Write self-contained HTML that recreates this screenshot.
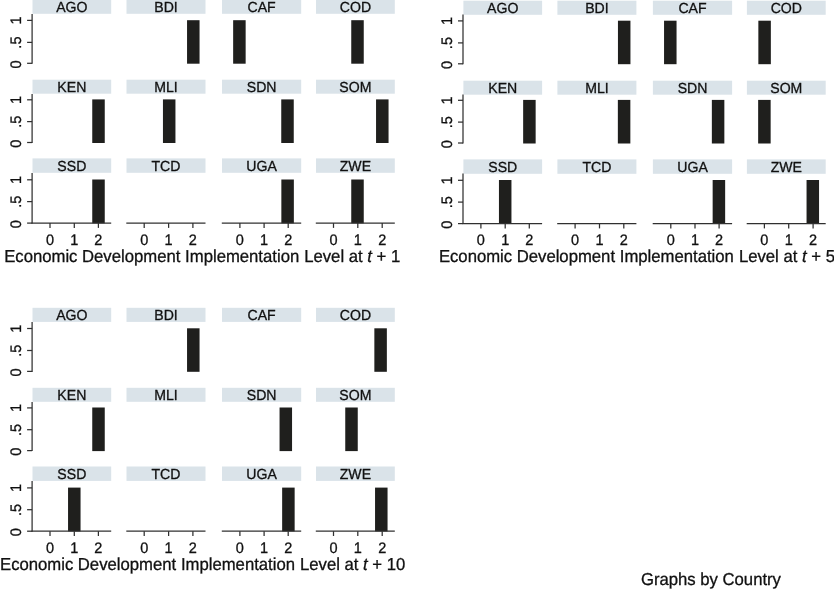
<!DOCTYPE html>
<html><head><meta charset="utf-8"><title>Graphs by Country</title>
<style>html,body{margin:0;padding:0;background:#fff}svg{display:block}text{stroke:#111;stroke-width:.3px;text-rendering:geometricPrecision}</style></head>
<body>
<svg width="834" height="590" viewBox="0 0 834 590" font-family="'Liberation Sans', sans-serif" fill="#111111">
<rect width="834" height="590" fill="#fff"/>
<g transform="translate(0,0)">
<rect x="32.5" y="-0.3" width="78.7" height="14.10" fill="#dae3e9"/>
<text transform="translate(71.85,12.25) scale(1,1.03)" font-size="14.1" text-anchor="middle">AGO</text>
<path d="M32.10 14.00V63.80" stroke="#303030" stroke-width="1.25" fill="none"/>
<path d="M27.10 20.40H32.10" stroke="#303030" stroke-width="1.25" fill="none"/>
<text transform="translate(21.30,20.50) rotate(-90) scale(1,1.05)" font-size="14.5" text-anchor="middle">1</text>
<path d="M27.10 42.40H32.10" stroke="#303030" stroke-width="1.25" fill="none"/>
<text transform="translate(21.30,42.60) rotate(-90) scale(1,1.05)" font-size="14.5" text-anchor="middle">.5</text>
<path d="M27.10 63.30H32.10" stroke="#303030" stroke-width="1.25" fill="none"/>
<text transform="translate(21.30,64.40) rotate(-90) scale(1,1.05)" font-size="14.5" text-anchor="middle">0</text>
<rect x="126.5" y="-0.3" width="79.0" height="14.10" fill="#dae3e9"/>
<text transform="translate(166.00,12.25) scale(1,1.03)" font-size="14.1" text-anchor="middle">BDI</text>
<rect x="187.05" y="20.20" width="12.5" height="43.50" fill="#1f1f1d"/>
<rect x="222.0" y="-0.3" width="79.2" height="14.10" fill="#dae3e9"/>
<text transform="translate(261.60,12.25) scale(1,1.03)" font-size="14.1" text-anchor="middle">CAF</text>
<rect x="233.15" y="20.20" width="12.5" height="43.50" fill="#1f1f1d"/>
<rect x="316.0" y="-0.3" width="78.8" height="14.10" fill="#dae3e9"/>
<text transform="translate(355.40,12.25) scale(1,1.03)" font-size="14.1" text-anchor="middle">COD</text>
<rect x="351.25" y="20.20" width="12.5" height="43.50" fill="#1f1f1d"/>
<rect x="32.5" y="79.7" width="78.7" height="14.00" fill="#dae3e9"/>
<text transform="translate(71.85,92.15) scale(1,1.03)" font-size="14.1" text-anchor="middle">KEN</text>
<rect x="92.25" y="99.40" width="12.5" height="43.60" fill="#1f1f1d"/>
<path d="M32.10 94.00V143.00" stroke="#303030" stroke-width="1.25" fill="none"/>
<path d="M27.10 99.80H32.10" stroke="#303030" stroke-width="1.25" fill="none"/>
<text transform="translate(21.30,99.90) rotate(-90) scale(1,1.05)" font-size="14.5" text-anchor="middle">1</text>
<path d="M27.10 121.60H32.10" stroke="#303030" stroke-width="1.25" fill="none"/>
<text transform="translate(21.30,121.80) rotate(-90) scale(1,1.05)" font-size="14.5" text-anchor="middle">.5</text>
<path d="M27.10 142.50H32.10" stroke="#303030" stroke-width="1.25" fill="none"/>
<text transform="translate(21.30,143.60) rotate(-90) scale(1,1.05)" font-size="14.5" text-anchor="middle">0</text>
<rect x="126.5" y="79.7" width="79.0" height="14.00" fill="#dae3e9"/>
<text transform="translate(166.00,92.15) scale(1,1.03)" font-size="14.1" text-anchor="middle">MLI</text>
<rect x="162.95" y="99.40" width="12.5" height="43.60" fill="#1f1f1d"/>
<rect x="222.0" y="79.7" width="79.2" height="14.00" fill="#dae3e9"/>
<text transform="translate(261.60,92.15) scale(1,1.03)" font-size="14.1" text-anchor="middle">SDN</text>
<rect x="281.25" y="99.40" width="12.5" height="43.60" fill="#1f1f1d"/>
<rect x="316.0" y="79.7" width="78.8" height="14.00" fill="#dae3e9"/>
<text transform="translate(355.40,92.15) scale(1,1.03)" font-size="14.1" text-anchor="middle">SOM</text>
<rect x="376.05" y="99.40" width="12.5" height="43.60" fill="#1f1f1d"/>
<rect x="32.5" y="158.4" width="78.7" height="14.40" fill="#dae3e9"/>
<text transform="translate(71.85,171.25) scale(1,1.03)" font-size="14.1" text-anchor="middle">SSD</text>
<rect x="92.25" y="179.50" width="12.5" height="43.80" fill="#1f1f1d"/>
<path d="M32.10 172.90V223.60" stroke="#303030" stroke-width="1.25" fill="none"/>
<path d="M27.10 179.80H32.10" stroke="#303030" stroke-width="1.25" fill="none"/>
<text transform="translate(21.30,179.90) rotate(-90) scale(1,1.05)" font-size="14.5" text-anchor="middle">1</text>
<path d="M27.10 201.60H32.10" stroke="#303030" stroke-width="1.25" fill="none"/>
<text transform="translate(21.30,201.80) rotate(-90) scale(1,1.05)" font-size="14.5" text-anchor="middle">.5</text>
<path d="M27.10 223.10H32.10" stroke="#303030" stroke-width="1.25" fill="none"/>
<text transform="translate(21.30,224.20) rotate(-90) scale(1,1.05)" font-size="14.5" text-anchor="middle">0</text>
<path d="M31.60 223.10H111.20" stroke="#303030" stroke-width="1.25" fill="none"/>
<path d="M50.00 223.10v4.8" stroke="#303030" stroke-width="1.25" fill="none"/>
<text transform="translate(50.00,244.80) scale(1,1.05)" font-size="14.5" text-anchor="middle">0</text>
<path d="M74.30 223.10v4.8" stroke="#303030" stroke-width="1.25" fill="none"/>
<text transform="translate(74.30,244.80) scale(1,1.05)" font-size="14.5" text-anchor="middle">1</text>
<path d="M98.40 223.10v4.8" stroke="#303030" stroke-width="1.25" fill="none"/>
<text transform="translate(98.40,244.80) scale(1,1.05)" font-size="14.5" text-anchor="middle">2</text>
<rect x="126.5" y="158.4" width="79.0" height="14.40" fill="#dae3e9"/>
<text transform="translate(166.00,171.25) scale(1,1.03)" font-size="14.1" text-anchor="middle">TCD</text>
<path d="M126.30 223.10H205.50" stroke="#303030" stroke-width="1.25" fill="none"/>
<path d="M144.20 223.10v4.8" stroke="#303030" stroke-width="1.25" fill="none"/>
<text transform="translate(144.20,244.80) scale(1,1.05)" font-size="14.5" text-anchor="middle">0</text>
<path d="M168.60 223.10v4.8" stroke="#303030" stroke-width="1.25" fill="none"/>
<text transform="translate(168.60,244.80) scale(1,1.05)" font-size="14.5" text-anchor="middle">1</text>
<path d="M192.90 223.10v4.8" stroke="#303030" stroke-width="1.25" fill="none"/>
<text transform="translate(192.90,244.80) scale(1,1.05)" font-size="14.5" text-anchor="middle">2</text>
<rect x="222.0" y="158.4" width="79.2" height="14.40" fill="#dae3e9"/>
<text transform="translate(261.60,171.25) scale(1,1.03)" font-size="14.1" text-anchor="middle">UGA</text>
<rect x="281.35" y="179.50" width="12.5" height="43.80" fill="#1f1f1d"/>
<path d="M221.80 223.10H301.20" stroke="#303030" stroke-width="1.25" fill="none"/>
<path d="M239.90 223.10v4.8" stroke="#303030" stroke-width="1.25" fill="none"/>
<text transform="translate(239.90,244.80) scale(1,1.05)" font-size="14.5" text-anchor="middle">0</text>
<path d="M264.10 223.10v4.8" stroke="#303030" stroke-width="1.25" fill="none"/>
<text transform="translate(264.10,244.80) scale(1,1.05)" font-size="14.5" text-anchor="middle">1</text>
<path d="M288.20 223.10v4.8" stroke="#303030" stroke-width="1.25" fill="none"/>
<text transform="translate(288.20,244.80) scale(1,1.05)" font-size="14.5" text-anchor="middle">2</text>
<rect x="316.0" y="158.4" width="78.8" height="14.40" fill="#dae3e9"/>
<text transform="translate(355.40,171.25) scale(1,1.03)" font-size="14.1" text-anchor="middle">ZWE</text>
<rect x="351.25" y="179.50" width="12.5" height="43.80" fill="#1f1f1d"/>
<path d="M315.80 223.10H394.80" stroke="#303030" stroke-width="1.25" fill="none"/>
<path d="M333.50 223.10v4.8" stroke="#303030" stroke-width="1.25" fill="none"/>
<text transform="translate(333.50,244.80) scale(1,1.05)" font-size="14.5" text-anchor="middle">0</text>
<path d="M357.80 223.10v4.8" stroke="#303030" stroke-width="1.25" fill="none"/>
<text transform="translate(357.80,244.80) scale(1,1.05)" font-size="14.5" text-anchor="middle">1</text>
<path d="M382.20 223.10v4.8" stroke="#303030" stroke-width="1.25" fill="none"/>
<text transform="translate(382.20,244.80) scale(1,1.05)" font-size="14.5" text-anchor="middle">2</text>
<g font-size="16.7"><text transform="translate(4.2,261.50) scale(1,1.035)">Economic</text><text transform="translate(82.0,261.50) scale(1,1.035)">Development</text><text transform="translate(185.1,261.50) scale(1,1.035)">Implementation</text><text transform="translate(304.2,261.50) scale(1,1.035)">Level at <tspan font-style="italic">t</tspan> + 1</text></g>
</g>
<g transform="translate(430.9,0.5)">
<rect x="32.5" y="0.2" width="78.7" height="14.10" fill="#dae3e9"/>
<text transform="translate(71.85,12.75) scale(1,1.03)" font-size="14.1" text-anchor="middle">AGO</text>
<path d="M32.10 14.00V63.80" stroke="#303030" stroke-width="1.25" fill="none"/>
<path d="M27.10 20.40H32.10" stroke="#303030" stroke-width="1.25" fill="none"/>
<text transform="translate(21.30,20.50) rotate(-90) scale(1,1.05)" font-size="14.5" text-anchor="middle">1</text>
<path d="M27.10 42.40H32.10" stroke="#303030" stroke-width="1.25" fill="none"/>
<text transform="translate(21.30,42.60) rotate(-90) scale(1,1.05)" font-size="14.5" text-anchor="middle">.5</text>
<path d="M27.10 63.30H32.10" stroke="#303030" stroke-width="1.25" fill="none"/>
<text transform="translate(21.30,64.40) rotate(-90) scale(1,1.05)" font-size="14.5" text-anchor="middle">0</text>
<rect x="126.5" y="0.2" width="79.0" height="14.10" fill="#dae3e9"/>
<text transform="translate(166.00,12.75) scale(1,1.03)" font-size="14.1" text-anchor="middle">BDI</text>
<rect x="187.05" y="20.20" width="12.5" height="43.50" fill="#1f1f1d"/>
<rect x="222.0" y="0.2" width="79.2" height="14.10" fill="#dae3e9"/>
<text transform="translate(261.60,12.75) scale(1,1.03)" font-size="14.1" text-anchor="middle">CAF</text>
<rect x="233.15" y="20.20" width="12.5" height="43.50" fill="#1f1f1d"/>
<rect x="316.0" y="0.2" width="78.8" height="14.10" fill="#dae3e9"/>
<text transform="translate(355.40,12.75) scale(1,1.03)" font-size="14.1" text-anchor="middle">COD</text>
<rect x="327.45" y="20.20" width="12.5" height="43.50" fill="#1f1f1d"/>
<rect x="32.5" y="80.2" width="78.7" height="14.00" fill="#dae3e9"/>
<text transform="translate(71.85,92.65) scale(1,1.03)" font-size="14.1" text-anchor="middle">KEN</text>
<rect x="92.25" y="99.40" width="12.5" height="43.60" fill="#1f1f1d"/>
<path d="M32.10 94.00V143.00" stroke="#303030" stroke-width="1.25" fill="none"/>
<path d="M27.10 99.80H32.10" stroke="#303030" stroke-width="1.25" fill="none"/>
<text transform="translate(21.30,99.90) rotate(-90) scale(1,1.05)" font-size="14.5" text-anchor="middle">1</text>
<path d="M27.10 121.60H32.10" stroke="#303030" stroke-width="1.25" fill="none"/>
<text transform="translate(21.30,121.80) rotate(-90) scale(1,1.05)" font-size="14.5" text-anchor="middle">.5</text>
<path d="M27.10 142.50H32.10" stroke="#303030" stroke-width="1.25" fill="none"/>
<text transform="translate(21.30,143.60) rotate(-90) scale(1,1.05)" font-size="14.5" text-anchor="middle">0</text>
<rect x="126.5" y="80.2" width="79.0" height="14.00" fill="#dae3e9"/>
<text transform="translate(166.00,92.65) scale(1,1.03)" font-size="14.1" text-anchor="middle">MLI</text>
<rect x="186.95" y="99.40" width="12.5" height="43.60" fill="#1f1f1d"/>
<rect x="222.0" y="80.2" width="79.2" height="14.00" fill="#dae3e9"/>
<text transform="translate(261.60,92.65) scale(1,1.03)" font-size="14.1" text-anchor="middle">SDN</text>
<rect x="280.95" y="99.40" width="12.5" height="43.60" fill="#1f1f1d"/>
<rect x="316.0" y="80.2" width="78.8" height="14.00" fill="#dae3e9"/>
<text transform="translate(355.40,92.65) scale(1,1.03)" font-size="14.1" text-anchor="middle">SOM</text>
<rect x="327.25" y="99.40" width="12.5" height="43.60" fill="#1f1f1d"/>
<rect x="32.5" y="158.9" width="78.7" height="14.40" fill="#dae3e9"/>
<text transform="translate(71.85,171.75) scale(1,1.03)" font-size="14.1" text-anchor="middle">SSD</text>
<rect x="68.05" y="179.50" width="12.5" height="43.80" fill="#1f1f1d"/>
<path d="M32.10 172.90V223.60" stroke="#303030" stroke-width="1.25" fill="none"/>
<path d="M27.10 179.80H32.10" stroke="#303030" stroke-width="1.25" fill="none"/>
<text transform="translate(21.30,179.90) rotate(-90) scale(1,1.05)" font-size="14.5" text-anchor="middle">1</text>
<path d="M27.10 201.60H32.10" stroke="#303030" stroke-width="1.25" fill="none"/>
<text transform="translate(21.30,201.80) rotate(-90) scale(1,1.05)" font-size="14.5" text-anchor="middle">.5</text>
<path d="M27.10 223.10H32.10" stroke="#303030" stroke-width="1.25" fill="none"/>
<text transform="translate(21.30,224.20) rotate(-90) scale(1,1.05)" font-size="14.5" text-anchor="middle">0</text>
<path d="M31.60 223.10H111.20" stroke="#303030" stroke-width="1.25" fill="none"/>
<path d="M50.00 223.10v4.8" stroke="#303030" stroke-width="1.25" fill="none"/>
<text transform="translate(50.00,244.80) scale(1,1.05)" font-size="14.5" text-anchor="middle">0</text>
<path d="M74.30 223.10v4.8" stroke="#303030" stroke-width="1.25" fill="none"/>
<text transform="translate(74.30,244.80) scale(1,1.05)" font-size="14.5" text-anchor="middle">1</text>
<path d="M98.40 223.10v4.8" stroke="#303030" stroke-width="1.25" fill="none"/>
<text transform="translate(98.40,244.80) scale(1,1.05)" font-size="14.5" text-anchor="middle">2</text>
<rect x="126.5" y="158.9" width="79.0" height="14.40" fill="#dae3e9"/>
<text transform="translate(166.00,171.75) scale(1,1.03)" font-size="14.1" text-anchor="middle">TCD</text>
<path d="M126.30 223.10H205.50" stroke="#303030" stroke-width="1.25" fill="none"/>
<path d="M144.20 223.10v4.8" stroke="#303030" stroke-width="1.25" fill="none"/>
<text transform="translate(144.20,244.80) scale(1,1.05)" font-size="14.5" text-anchor="middle">0</text>
<path d="M168.60 223.10v4.8" stroke="#303030" stroke-width="1.25" fill="none"/>
<text transform="translate(168.60,244.80) scale(1,1.05)" font-size="14.5" text-anchor="middle">1</text>
<path d="M192.90 223.10v4.8" stroke="#303030" stroke-width="1.25" fill="none"/>
<text transform="translate(192.90,244.80) scale(1,1.05)" font-size="14.5" text-anchor="middle">2</text>
<rect x="222.0" y="158.9" width="79.2" height="14.40" fill="#dae3e9"/>
<text transform="translate(261.60,171.75) scale(1,1.03)" font-size="14.1" text-anchor="middle">UGA</text>
<rect x="281.75" y="179.50" width="12.5" height="43.80" fill="#1f1f1d"/>
<path d="M221.80 223.10H301.20" stroke="#303030" stroke-width="1.25" fill="none"/>
<path d="M239.90 223.10v4.8" stroke="#303030" stroke-width="1.25" fill="none"/>
<text transform="translate(239.90,244.80) scale(1,1.05)" font-size="14.5" text-anchor="middle">0</text>
<path d="M264.10 223.10v4.8" stroke="#303030" stroke-width="1.25" fill="none"/>
<text transform="translate(264.10,244.80) scale(1,1.05)" font-size="14.5" text-anchor="middle">1</text>
<path d="M288.20 223.10v4.8" stroke="#303030" stroke-width="1.25" fill="none"/>
<text transform="translate(288.20,244.80) scale(1,1.05)" font-size="14.5" text-anchor="middle">2</text>
<rect x="316.0" y="158.9" width="78.8" height="14.40" fill="#dae3e9"/>
<text transform="translate(355.40,171.75) scale(1,1.03)" font-size="14.1" text-anchor="middle">ZWE</text>
<rect x="375.65" y="179.50" width="12.5" height="43.80" fill="#1f1f1d"/>
<path d="M315.80 223.10H394.80" stroke="#303030" stroke-width="1.25" fill="none"/>
<path d="M333.50 223.10v4.8" stroke="#303030" stroke-width="1.25" fill="none"/>
<text transform="translate(333.50,244.80) scale(1,1.05)" font-size="14.5" text-anchor="middle">0</text>
<path d="M357.80 223.10v4.8" stroke="#303030" stroke-width="1.25" fill="none"/>
<text transform="translate(357.80,244.80) scale(1,1.05)" font-size="14.5" text-anchor="middle">1</text>
<path d="M382.20 223.10v4.8" stroke="#303030" stroke-width="1.25" fill="none"/>
<text transform="translate(382.20,244.80) scale(1,1.05)" font-size="14.5" text-anchor="middle">2</text>
<g font-size="16.7"><text transform="translate(8.0,261.50) scale(1,1.035)">Economic</text><text transform="translate(85.8,261.50) scale(1,1.035)">Development</text><text transform="translate(188.9,261.50) scale(1,1.035)">Implementation</text><text transform="translate(308.0,261.50) scale(1,1.035)">Level at <tspan font-style="italic">t</tspan> + 5</text></g>
</g>
<g transform="translate(0,308.1)">
<rect x="32.5" y="-0.3" width="78.7" height="14.10" fill="#dae3e9"/>
<text transform="translate(71.85,12.25) scale(1,1.03)" font-size="14.1" text-anchor="middle">AGO</text>
<path d="M32.10 14.00V63.80" stroke="#303030" stroke-width="1.25" fill="none"/>
<path d="M27.10 20.40H32.10" stroke="#303030" stroke-width="1.25" fill="none"/>
<text transform="translate(21.30,20.50) rotate(-90) scale(1,1.05)" font-size="14.5" text-anchor="middle">1</text>
<path d="M27.10 42.40H32.10" stroke="#303030" stroke-width="1.25" fill="none"/>
<text transform="translate(21.30,42.60) rotate(-90) scale(1,1.05)" font-size="14.5" text-anchor="middle">.5</text>
<path d="M27.10 63.30H32.10" stroke="#303030" stroke-width="1.25" fill="none"/>
<text transform="translate(21.30,64.40) rotate(-90) scale(1,1.05)" font-size="14.5" text-anchor="middle">0</text>
<rect x="126.5" y="-0.3" width="79.0" height="14.10" fill="#dae3e9"/>
<text transform="translate(166.00,12.25) scale(1,1.03)" font-size="14.1" text-anchor="middle">BDI</text>
<rect x="187.05" y="20.20" width="12.5" height="43.50" fill="#1f1f1d"/>
<rect x="222.0" y="-0.3" width="79.2" height="14.10" fill="#dae3e9"/>
<text transform="translate(261.60,12.25) scale(1,1.03)" font-size="14.1" text-anchor="middle">CAF</text>
<rect x="316.0" y="-0.3" width="78.8" height="14.10" fill="#dae3e9"/>
<text transform="translate(355.40,12.25) scale(1,1.03)" font-size="14.1" text-anchor="middle">COD</text>
<rect x="374.35" y="20.20" width="12.5" height="43.50" fill="#1f1f1d"/>
<rect x="32.5" y="79.7" width="78.7" height="14.00" fill="#dae3e9"/>
<text transform="translate(71.85,92.15) scale(1,1.03)" font-size="14.1" text-anchor="middle">KEN</text>
<rect x="92.25" y="99.40" width="12.5" height="43.60" fill="#1f1f1d"/>
<path d="M32.10 94.00V143.00" stroke="#303030" stroke-width="1.25" fill="none"/>
<path d="M27.10 99.80H32.10" stroke="#303030" stroke-width="1.25" fill="none"/>
<text transform="translate(21.30,99.90) rotate(-90) scale(1,1.05)" font-size="14.5" text-anchor="middle">1</text>
<path d="M27.10 121.60H32.10" stroke="#303030" stroke-width="1.25" fill="none"/>
<text transform="translate(21.30,121.80) rotate(-90) scale(1,1.05)" font-size="14.5" text-anchor="middle">.5</text>
<path d="M27.10 142.50H32.10" stroke="#303030" stroke-width="1.25" fill="none"/>
<text transform="translate(21.30,143.60) rotate(-90) scale(1,1.05)" font-size="14.5" text-anchor="middle">0</text>
<rect x="126.5" y="79.7" width="79.0" height="14.00" fill="#dae3e9"/>
<text transform="translate(166.00,92.15) scale(1,1.03)" font-size="14.1" text-anchor="middle">MLI</text>
<rect x="222.0" y="79.7" width="79.2" height="14.00" fill="#dae3e9"/>
<text transform="translate(261.60,92.15) scale(1,1.03)" font-size="14.1" text-anchor="middle">SDN</text>
<rect x="279.55" y="99.40" width="12.5" height="43.60" fill="#1f1f1d"/>
<rect x="316.0" y="79.7" width="78.8" height="14.00" fill="#dae3e9"/>
<text transform="translate(355.40,92.15) scale(1,1.03)" font-size="14.1" text-anchor="middle">SOM</text>
<rect x="345.25" y="99.40" width="12.5" height="43.60" fill="#1f1f1d"/>
<rect x="32.5" y="158.4" width="78.7" height="14.40" fill="#dae3e9"/>
<text transform="translate(71.85,171.25) scale(1,1.03)" font-size="14.1" text-anchor="middle">SSD</text>
<rect x="68.05" y="179.50" width="12.5" height="43.80" fill="#1f1f1d"/>
<path d="M32.10 172.90V223.60" stroke="#303030" stroke-width="1.25" fill="none"/>
<path d="M27.10 179.80H32.10" stroke="#303030" stroke-width="1.25" fill="none"/>
<text transform="translate(21.30,179.90) rotate(-90) scale(1,1.05)" font-size="14.5" text-anchor="middle">1</text>
<path d="M27.10 201.60H32.10" stroke="#303030" stroke-width="1.25" fill="none"/>
<text transform="translate(21.30,201.80) rotate(-90) scale(1,1.05)" font-size="14.5" text-anchor="middle">.5</text>
<path d="M27.10 223.10H32.10" stroke="#303030" stroke-width="1.25" fill="none"/>
<text transform="translate(21.30,224.20) rotate(-90) scale(1,1.05)" font-size="14.5" text-anchor="middle">0</text>
<path d="M31.60 223.10H111.20" stroke="#303030" stroke-width="1.25" fill="none"/>
<path d="M50.00 223.10v4.8" stroke="#303030" stroke-width="1.25" fill="none"/>
<text transform="translate(50.00,244.80) scale(1,1.05)" font-size="14.5" text-anchor="middle">0</text>
<path d="M74.30 223.10v4.8" stroke="#303030" stroke-width="1.25" fill="none"/>
<text transform="translate(74.30,244.80) scale(1,1.05)" font-size="14.5" text-anchor="middle">1</text>
<path d="M98.40 223.10v4.8" stroke="#303030" stroke-width="1.25" fill="none"/>
<text transform="translate(98.40,244.80) scale(1,1.05)" font-size="14.5" text-anchor="middle">2</text>
<rect x="126.5" y="158.4" width="79.0" height="14.40" fill="#dae3e9"/>
<text transform="translate(166.00,171.25) scale(1,1.03)" font-size="14.1" text-anchor="middle">TCD</text>
<path d="M126.30 223.10H205.50" stroke="#303030" stroke-width="1.25" fill="none"/>
<path d="M144.20 223.10v4.8" stroke="#303030" stroke-width="1.25" fill="none"/>
<text transform="translate(144.20,244.80) scale(1,1.05)" font-size="14.5" text-anchor="middle">0</text>
<path d="M168.60 223.10v4.8" stroke="#303030" stroke-width="1.25" fill="none"/>
<text transform="translate(168.60,244.80) scale(1,1.05)" font-size="14.5" text-anchor="middle">1</text>
<path d="M192.90 223.10v4.8" stroke="#303030" stroke-width="1.25" fill="none"/>
<text transform="translate(192.90,244.80) scale(1,1.05)" font-size="14.5" text-anchor="middle">2</text>
<rect x="222.0" y="158.4" width="79.2" height="14.40" fill="#dae3e9"/>
<text transform="translate(261.60,171.25) scale(1,1.03)" font-size="14.1" text-anchor="middle">UGA</text>
<rect x="282.15" y="179.50" width="12.5" height="43.80" fill="#1f1f1d"/>
<path d="M221.80 223.10H301.20" stroke="#303030" stroke-width="1.25" fill="none"/>
<path d="M239.90 223.10v4.8" stroke="#303030" stroke-width="1.25" fill="none"/>
<text transform="translate(239.90,244.80) scale(1,1.05)" font-size="14.5" text-anchor="middle">0</text>
<path d="M264.10 223.10v4.8" stroke="#303030" stroke-width="1.25" fill="none"/>
<text transform="translate(264.10,244.80) scale(1,1.05)" font-size="14.5" text-anchor="middle">1</text>
<path d="M288.20 223.10v4.8" stroke="#303030" stroke-width="1.25" fill="none"/>
<text transform="translate(288.20,244.80) scale(1,1.05)" font-size="14.5" text-anchor="middle">2</text>
<rect x="316.0" y="158.4" width="78.8" height="14.40" fill="#dae3e9"/>
<text transform="translate(355.40,171.25) scale(1,1.03)" font-size="14.1" text-anchor="middle">ZWE</text>
<rect x="375.05" y="179.50" width="12.5" height="43.80" fill="#1f1f1d"/>
<path d="M315.80 223.10H394.80" stroke="#303030" stroke-width="1.25" fill="none"/>
<path d="M333.50 223.10v4.8" stroke="#303030" stroke-width="1.25" fill="none"/>
<text transform="translate(333.50,244.80) scale(1,1.05)" font-size="14.5" text-anchor="middle">0</text>
<path d="M357.80 223.10v4.8" stroke="#303030" stroke-width="1.25" fill="none"/>
<text transform="translate(357.80,244.80) scale(1,1.05)" font-size="14.5" text-anchor="middle">1</text>
<path d="M382.20 223.10v4.8" stroke="#303030" stroke-width="1.25" fill="none"/>
<text transform="translate(382.20,244.80) scale(1,1.05)" font-size="14.5" text-anchor="middle">2</text>
<g font-size="16.7"><text transform="translate(0.0,261.50) scale(1,1.035)">Economic</text><text transform="translate(77.8,261.50) scale(1,1.035)">Development</text><text transform="translate(180.9,261.50) scale(1,1.035)">Implementation</text><text transform="translate(300.0,261.50) scale(1,1.035)">Level at <tspan font-style="italic">t</tspan> + 10</text></g>
</g>
<text transform="translate(640.9,584.5) scale(1,1.035)" font-size="16.7">Graphs by Country</text>
</svg>
</body></html>
